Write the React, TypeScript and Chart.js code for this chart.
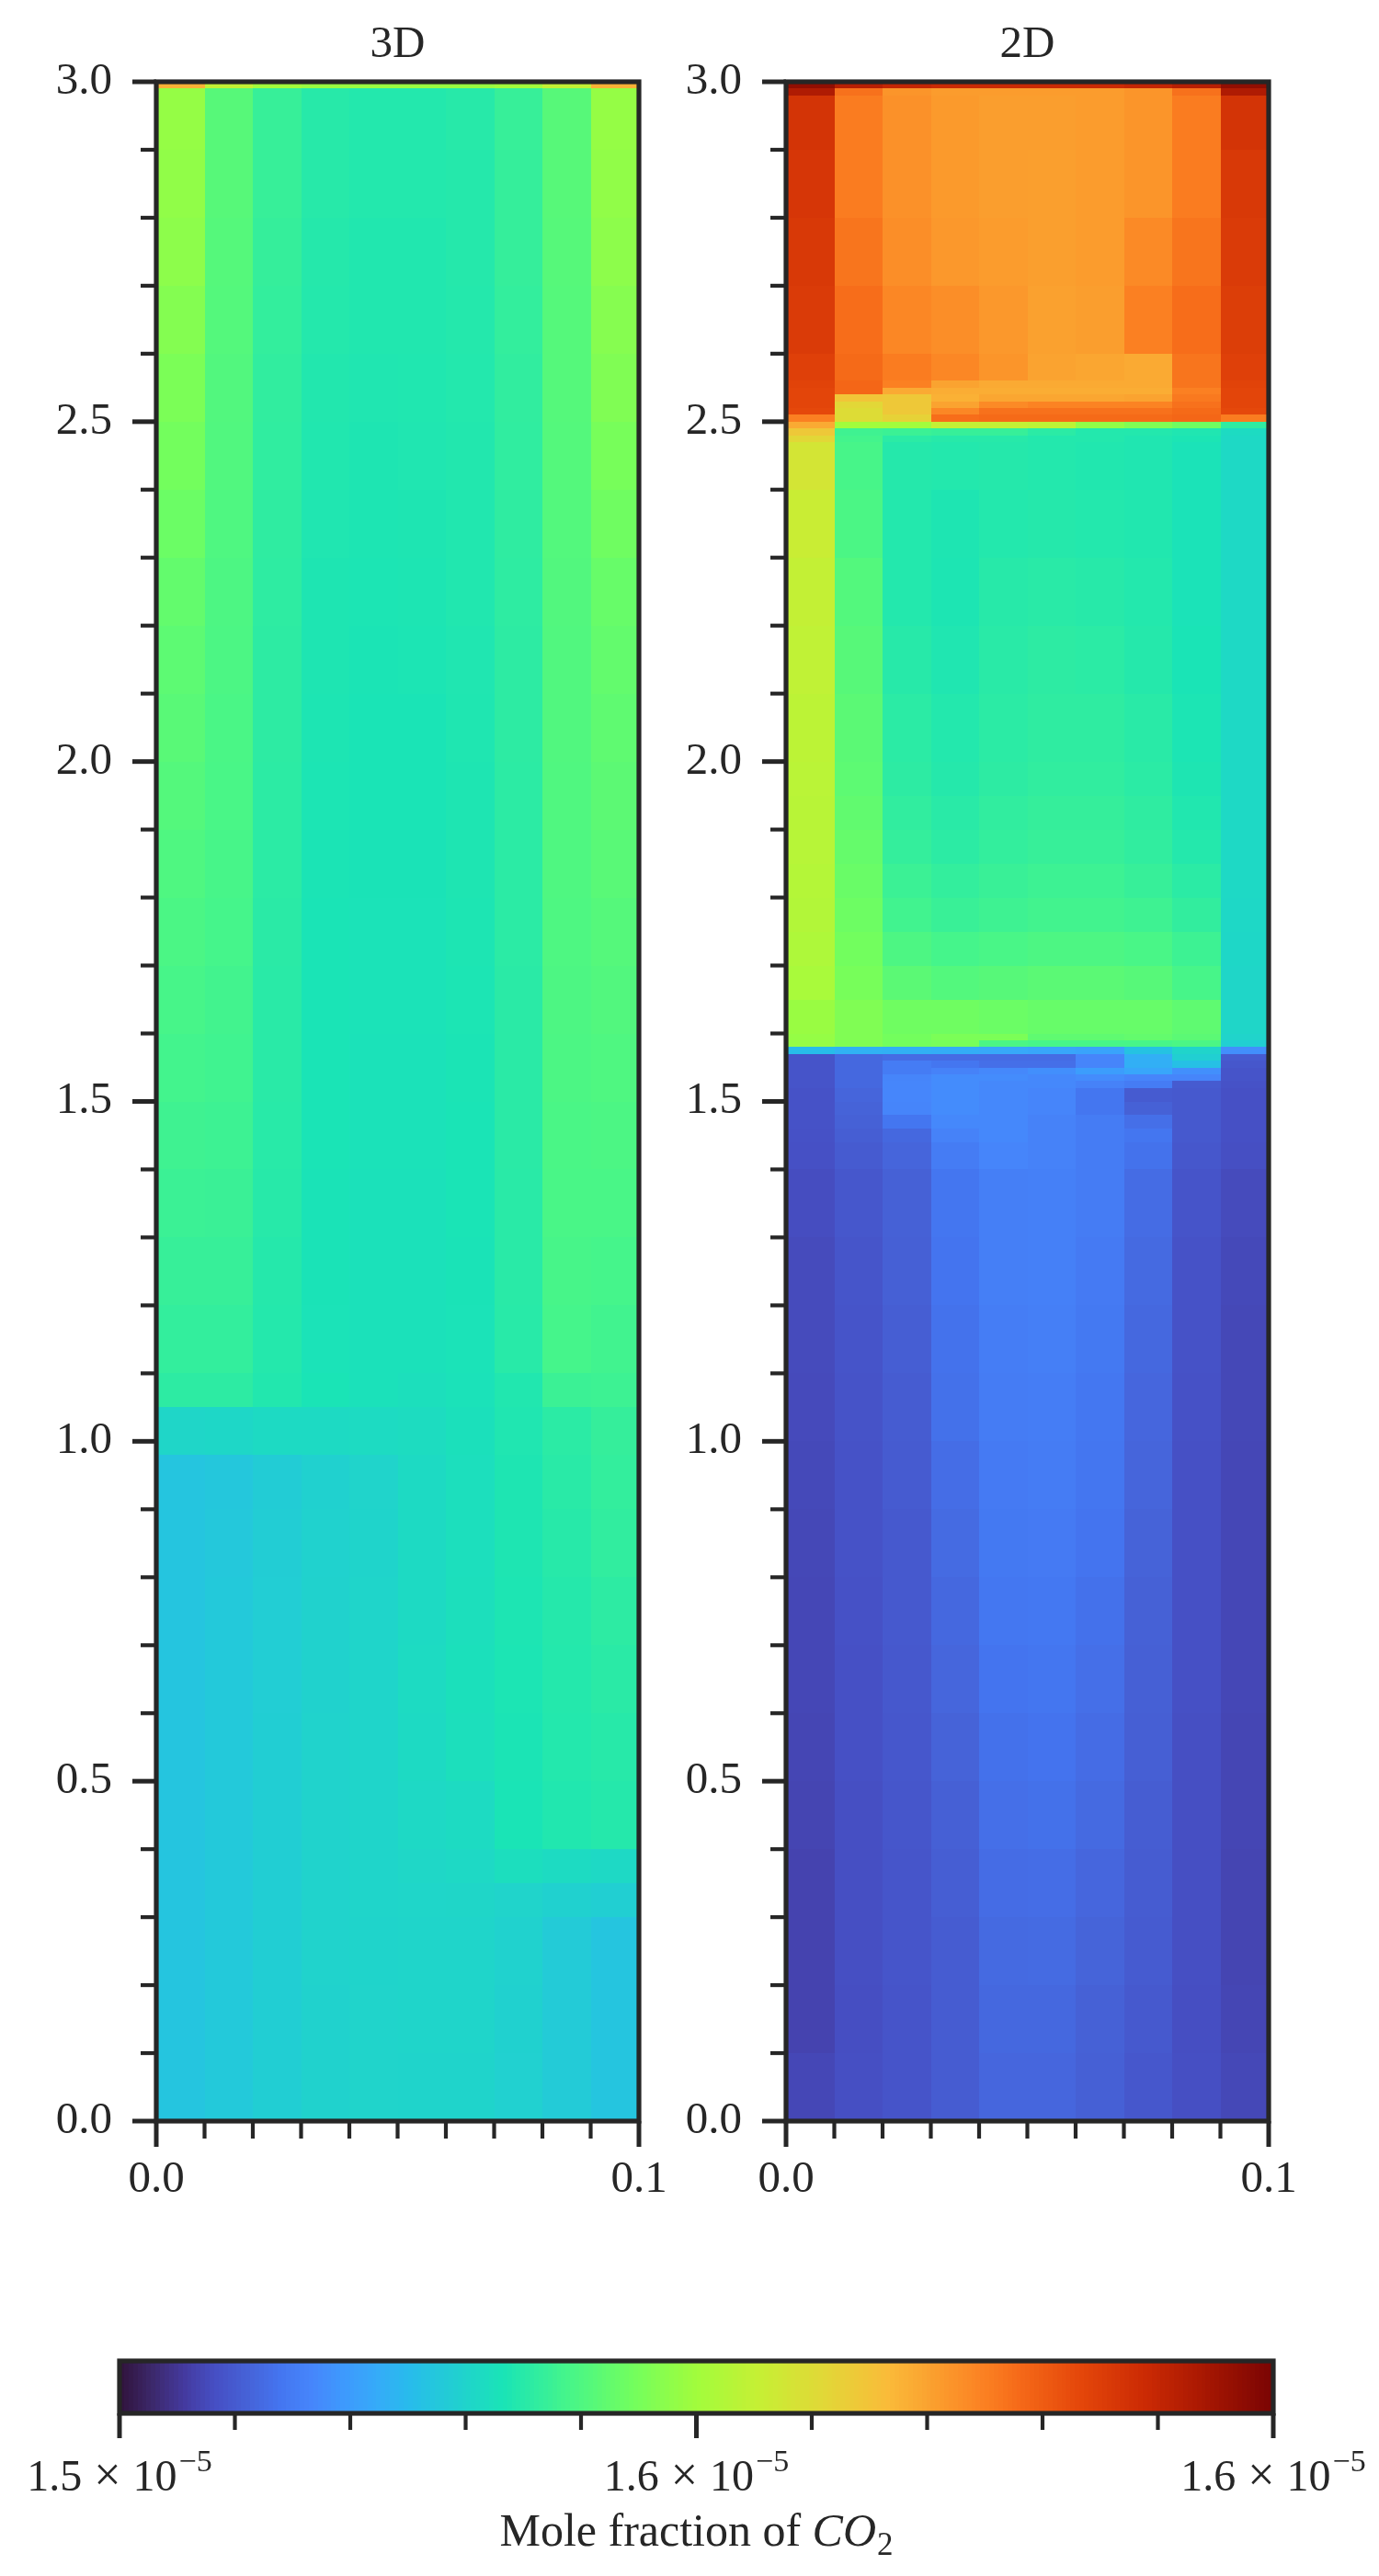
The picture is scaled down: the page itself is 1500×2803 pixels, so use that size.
import React, { useEffect, useRef } from "react";
import { Chart, registerables } from "chart.js";

Chart.register(...registerables);

const FONT = "'Liberation Serif', 'DejaVu Serif', serif";
const INK = "#262626";

// ---------------- data ----------------
// cell edges along x (m)
const xEdges = [0, 0.01, 0.02, 0.03, 0.04, 0.05, 0.06, 0.07, 0.08, 0.09, 0.1];

// CO2 mole fraction, in units of 1e-9, rows listed from top (y = 3.0) to bottom (y = 0)
const yEdges3D = [3.0, 2.99, 2.9, 2.8, 2.7, 2.6, 2.5, 2.4, 2.3, 2.2, 2.1, 2.0, 1.9, 1.8, 1.7, 1.6, 1.5, 1.4, 1.3, 1.2, 1.1, 1.05, 0.98, 0.9, 0.8, 0.7, 0.6, 0.5, 0.4, 0.35, 0.3, 0.2, 0.1, 0.0];
const co2_3D = [
  [15944, 15840, 15800, 15792, 15792, 15792, 15792, 15800, 15840, 15944],
  [15788, 15728, 15696, 15680, 15676, 15676, 15680, 15696, 15728, 15788],
  [15784, 15728, 15696, 15680, 15676, 15676, 15678, 15694, 15728, 15784],
  [15780, 15726, 15694, 15678, 15674, 15674, 15678, 15694, 15727, 15780],
  [15772, 15725, 15692, 15677, 15674, 15674, 15677, 15692, 15726, 15774],
  [15764, 15723, 15690, 15675, 15672, 15673, 15676, 15690, 15726, 15768],
  [15756, 15722, 15689, 15674, 15670, 15672, 15675, 15689, 15725, 15760],
  [15748, 15720, 15688, 15672, 15669, 15670, 15674, 15688, 15724, 15752],
  [15740, 15718, 15687, 15670, 15668, 15669, 15674, 15687, 15723, 15744],
  [15734, 15717, 15686, 15670, 15667, 15668, 15672, 15686, 15722, 15740],
  [15730, 15715, 15686, 15669, 15666, 15666, 15671, 15686, 15722, 15736],
  [15725, 15714, 15685, 15668, 15666, 15666, 15670, 15685, 15721, 15733],
  [15720, 15712, 15684, 15667, 15665, 15665, 15670, 15684, 15720, 15730],
  [15716, 15710, 15683, 15666, 15664, 15664, 15669, 15684, 15719, 15726],
  [15712, 15707, 15682, 15666, 15664, 15664, 15668, 15683, 15718, 15723],
  [15708, 15705, 15682, 15666, 15663, 15663, 15667, 15683, 15717, 15720],
  [15704, 15702, 15681, 15666, 15663, 15663, 15666, 15683, 15715, 15717],
  [15700, 15699, 15680, 15665, 15662, 15662, 15666, 15682, 15714, 15714],
  [15696, 15696, 15678, 15665, 15662, 15662, 15665, 15682, 15712, 15710],
  [15692, 15692, 15677, 15664, 15661, 15661, 15664, 15681, 15710, 15706],
  [15686, 15686, 15675, 15666, 15662, 15659, 15663, 15674, 15700, 15702],
  [15644, 15646, 15650, 15651, 15652, 15654, 15660, 15672, 15684, 15694],
  [15616, 15620, 15628, 15636, 15640, 15650, 15658, 15670, 15682, 15692],
  [15616, 15621, 15629, 15637, 15641, 15650, 15658, 15670, 15680, 15690],
  [15616, 15622, 15630, 15638, 15642, 15651, 15659, 15669, 15678, 15686],
  [15616, 15622, 15630, 15638, 15642, 15652, 15660, 15668, 15677, 15683],
  [15616, 15622, 15631, 15639, 15642, 15651, 15659, 15667, 15676, 15680],
  [15616, 15622, 15631, 15639, 15642, 15648, 15652, 15666, 15674, 15678],
  [15616, 15622, 15631, 15639, 15642, 15645, 15648, 15656, 15652, 15648],
  [15616, 15622, 15631, 15639, 15642, 15643, 15644, 15640, 15636, 15632],
  [15616, 15622, 15631, 15639, 15641, 15642, 15642, 15637, 15626, 15616],
  [15616, 15622, 15631, 15638, 15640, 15642, 15642, 15636, 15626, 15616],
  [15616, 15622, 15631, 15638, 15640, 15641, 15641, 15635, 15626, 15616],
];

const yEdges2D = [3.0, 2.99, 2.98, 2.9, 2.8, 2.7, 2.6, 2.56, 2.55, 2.54, 2.53, 2.52, 2.51, 2.5, 2.49, 2.48, 2.47, 2.4, 2.3, 2.2, 2.1, 2.0, 1.95, 1.9, 1.85, 1.8, 1.75, 1.7, 1.65, 1.6, 1.59, 1.58, 1.57, 1.56, 1.55, 1.54, 1.53, 1.52, 1.5, 1.48, 1.46, 1.44, 1.4, 1.3, 1.2, 1.1, 1.0, 0.9, 0.8, 0.7, 0.6, 0.5, 0.4, 0.3, 0.2, 0.1, 0.0];
const co2_2D = [
  [16176, 16136, 16120, 16112, 16112, 16112, 16112, 16120, 16136, 16176],
  [16144, 16016, 15976, 15968, 15968, 15968, 15968, 15976, 16016, 16144],
  [16096, 16004, 15980, 15970, 15966, 15966, 15968, 15976, 16004, 16096],
  [16092, 16004, 15980, 15970, 15966, 15965, 15968, 15976, 16004, 16088],
  [16088, 16012, 15984, 15972, 15968, 15964, 15968, 15988, 16012, 16084],
  [16084, 16020, 15992, 15984, 15972, 15962, 15966, 16000, 16020, 16080],
  [16076, 16024, 16004, 15992, 15976, 15960, 15956, 15952, 16012, 16076],
  [16072, 16028, 16000, 15960, 15952, 15952, 15952, 15952, 16012, 16072],
  [16068, 16028, 15952, 15948, 15948, 15948, 15948, 15948, 16000, 16068],
  [16068, 15916, 15912, 15944, 15956, 15956, 15956, 15960, 16008, 16068],
  [16068, 15888, 15912, 15960, 15988, 15996, 15996, 15996, 16016, 16068],
  [16064, 15880, 15912, 15992, 16016, 16016, 16016, 16016, 16024, 16064],
  [16000, 15880, 15896, 16020, 16024, 16024, 16024, 16024, 16028, 16004],
  [15952, 15800, 15800, 15840, 15840, 15832, 15784, 15768, 15752, 15688],
  [15912, 15704, 15700, 15696, 15696, 15684, 15676, 15676, 15672, 15652],
  [15888, 15708, 15684, 15680, 15680, 15676, 15676, 15672, 15668, 15648],
  [15864, 15712, 15678, 15676, 15678, 15676, 15674, 15672, 15664, 15648],
  [15848, 15716, 15676, 15670, 15676, 15678, 15676, 15674, 15664, 15648],
  [15840, 15724, 15676, 15669, 15680, 15682, 15680, 15676, 15664, 15648],
  [15836, 15728, 15680, 15672, 15682, 15686, 15684, 15678, 15666, 15648],
  [15832, 15732, 15684, 15676, 15684, 15688, 15688, 15682, 15668, 15648],
  [15829, 15734, 15686, 15678, 15686, 15690, 15690, 15684, 15670, 15648],
  [15827, 15738, 15690, 15682, 15690, 15694, 15694, 15688, 15674, 15648],
  [15825, 15742, 15693, 15685, 15692, 15696, 15696, 15690, 15677, 15648],
  [15822, 15746, 15700, 15692, 15698, 15702, 15702, 15696, 15684, 15648],
  [15819, 15750, 15706, 15698, 15703, 15707, 15707, 15703, 15691, 15647],
  [15814, 15755, 15718, 15710, 15714, 15718, 15718, 15714, 15702, 15646],
  [15808, 15760, 15732, 15724, 15728, 15732, 15732, 15728, 15712, 15644],
  [15792, 15768, 15752, 15752, 15748, 15744, 15744, 15744, 15736, 15644],
  [15788, 15768, 15756, 15764, 15764, 15736, 15736, 15740, 15732, 15640],
  [15788, 15768, 15756, 15760, 15716, 15712, 15712, 15712, 15716, 15632],
  [15604, 15588, 15586, 15582, 15576, 15572, 15568, 15612, 15640, 15544],
  [15472, 15496, 15500, 15500, 15500, 15500, 15532, 15584, 15632, 15480],
  [15472, 15496, 15520, 15512, 15504, 15504, 15532, 15584, 15608, 15476],
  [15472, 15496, 15520, 15528, 15536, 15544, 15560, 15572, 15544, 15472],
  [15472, 15496, 15532, 15540, 15540, 15536, 15540, 15532, 15532, 15472],
  [15472, 15496, 15534, 15540, 15536, 15536, 15528, 15520, 15480, 15470],
  [15470, 15492, 15534, 15540, 15536, 15532, 15512, 15480, 15478, 15468],
  [15470, 15490, 15532, 15540, 15536, 15532, 15512, 15488, 15478, 15468],
  [15470, 15488, 15512, 15536, 15536, 15528, 15520, 15504, 15478, 15468],
  [15469, 15484, 15496, 15528, 15536, 15528, 15520, 15512, 15478, 15468],
  [15468, 15480, 15492, 15520, 15532, 15528, 15520, 15508, 15476, 15466],
  [15464, 15476, 15488, 15512, 15524, 15526, 15520, 15500, 15472, 15462],
  [15462, 15474, 15486, 15510, 15524, 15526, 15518, 15498, 15470, 15460],
  [15462, 15472, 15484, 15508, 15522, 15524, 15516, 15496, 15470, 15459],
  [15461, 15471, 15482, 15506, 15520, 15522, 15514, 15494, 15469, 15459],
  [15460, 15470, 15480, 15502, 15518, 15520, 15512, 15492, 15468, 15458],
  [15459, 15470, 15478, 15499, 15516, 15518, 15510, 15490, 15468, 15458],
  [15458, 15469, 15478, 15496, 15514, 15515, 15507, 15488, 15467, 15458],
  [15458, 15468, 15477, 15493, 15510, 15512, 15504, 15486, 15467, 15458],
  [15457, 15467, 15476, 15490, 15507, 15509, 15501, 15485, 15466, 15457],
  [15456, 15466, 15475, 15486, 15504, 15506, 15498, 15483, 15466, 15457],
  [15454, 15466, 15474, 15484, 15501, 15502, 15494, 15482, 15466, 15456],
  [15454, 15466, 15474, 15482, 15498, 15499, 15491, 15480, 15466, 15456],
  [15454, 15465, 15472, 15482, 15496, 15496, 15488, 15478, 15465, 15457],
  [15458, 15466, 15472, 15482, 15494, 15494, 15486, 15476, 15466, 15459],
];

const panelTitles = ["3D", "2D"];
const xTickLabels = [0, 0.1];
const yTickLabels = [0, 0.5, 1.0, 1.5, 2.0, 2.5, 3.0];
const cbarRange = [15400, 16200]; // 1e-9 units
const cbarMajorTicks = [15400, 15800, 16200];
const cbarTitle = ["Mole fraction of ", "CO", "2"];

// turbo colormap stops
const turboStops: [number, string][] = [
  [0.0, "#30123b"], [0.028, "#3c286a"], [0.056, "#443a9f"], [0.083, "#464fc4"],
  [0.111, "#4662d7"], [0.139, "#4475f0"], [0.167, "#4686fb"], [0.194, "#3e99fd"],
  [0.222, "#36aaf9"], [0.25, "#28bbec"], [0.333, "#1ae4b6"], [0.389, "#46f58a"],
  [0.444, "#72fe5e"], [0.5, "#a2fc3c"], [0.556, "#c7ef34"], [0.611, "#e2d737"],
  [0.667, "#faba39"], [0.75, "#fb8022"], [0.778, "#f66b19"], [0.833, "#e4460a"],
  [0.889, "#cb2a04"], [0.944, "#a51602"], [1.0, "#7a0403"],
];

// ---------------- helpers ----------------
const stopRGB = turboStops.map(([t, h]) => [
  t,
  parseInt(h.slice(1, 3), 16),
  parseInt(h.slice(3, 5), 16),
  parseInt(h.slice(5, 7), 16),
]);

function turbo(t: number): string {
  const u = Math.max(0, Math.min(1, t));
  for (let i = 1; i < stopRGB.length; i++) {
    if (u <= stopRGB[i][0]) {
      const a = stopRGB[i - 1];
      const b = stopRGB[i];
      const f = (u - a[0]) / (b[0] - a[0]);
      const r = Math.round(a[1] + (b[1] - a[1]) * f);
      const g = Math.round(a[2] + (b[2] - a[2]) * f);
      const bl = Math.round(a[3] + (b[3] - a[3]) * f);
      return `rgb(${r},${g},${bl})`;
    }
  }
  return "#7a0403";
}

function colorOf(v: number) {
  return turbo((v - cbarRange[0]) / (cbarRange[1] - cbarRange[0]));
}

function buildCells(yEdges: number[], rows: number[][]) {
  const cells: any[] = [];
  rows.forEach((row, r) => {
    row.forEach((v, c) => {
      cells.push({
        x: (xEdges[c] + xEdges[c + 1]) / 2,
        y: (yEdges[r] + yEdges[r + 1]) / 2,
        x0: xEdges[c],
        x1: xEdges[c + 1],
        y0: yEdges[r + 1],
        y1: yEdges[r],
        v,
      });
    });
  });
  return cells;
}

const heatmapPlugin = {
  id: "heatmapCells",
  beforeDatasetsDraw(chart: any) {
    const { ctx, chartArea: a, scales } = chart;
    const xs = scales.x;
    const ys = scales.y;
    ctx.save();
    ctx.beginPath();
    ctx.rect(a.left, a.top, a.right - a.left, a.bottom - a.top);
    ctx.clip();
    chart.data.datasets.forEach((ds: any) => {
      ds.data.forEach((c: any) => {
        const l = Math.round(xs.getPixelForValue(c.x0));
        const r = Math.round(xs.getPixelForValue(c.x1));
        const t = Math.round(ys.getPixelForValue(c.y1));
        const b = Math.round(ys.getPixelForValue(c.y0));
        ctx.fillStyle = colorOf(c.v);
        ctx.fillRect(l, t, r - l, b - t);
      });
    });
    ctx.restore();
  },
};

const PANEL_H = 2420;
const PANEL_TOP = 89;
const PANEL_BOTTOM = 2308;
const PAD_BOTTOM = 20;
const TICK_FONT = 49;

function HeatPanel(props: {
  title: string;
  yEdges: number[];
  values: number[][];
  left: number;
  width: number;
  axisWidth: number;
  padRight: number;
}) {
  const ref = useRef<HTMLCanvasElement>(null);
  useEffect(() => {
    const { title, yEdges, values, axisWidth, padRight } = props;
    const decor = {
      id: "panelDecor",
      afterDraw(chart: any) {
        const { ctx, chartArea: a, scales } = chart;
        const xs = scales.x;
        const ys = scales.y;
        ctx.save();
        ctx.strokeStyle = INK;
        ctx.lineCap = "butt";
        for (let k = 0; k <= 30; k++) {
          const major = k % 5 === 0;
          const py = ys.getPixelForValue(k / 10);
          ctx.lineWidth = major ? 5 : 4.2;
          ctx.beginPath();
          ctx.moveTo(a.left, py);
          ctx.lineTo(a.left - (major ? 26 : 17), py);
          ctx.stroke();
        }
        for (let k = 0; k <= 10; k++) {
          const major = k === 0 || k === 10;
          const px = xs.getPixelForValue(k / 100);
          ctx.lineWidth = major ? 5 : 4.2;
          ctx.beginPath();
          ctx.moveTo(px, a.bottom);
          ctx.lineTo(px, a.bottom + (major ? 28 : 19));
          ctx.stroke();
        }
        ctx.lineWidth = 5.2;
        ctx.strokeRect(a.left, a.top, a.right - a.left, a.bottom - a.top);
        ctx.fillStyle = INK;
        ctx.font = `49px ${FONT}`;
        ctx.textAlign = "center";
        ctx.textBaseline = "alphabetic";
        ctx.fillText(title, (a.left + a.right) / 2, 62);
        ctx.restore();
      },
    };
    const chart = new Chart(ref.current as HTMLCanvasElement, {
      type: "scatter",
      data: {
        datasets: [
          {
            label: title,
            data: buildCells(yEdges, values),
            pointRadius: 0,
            pointHoverRadius: 0,
          } as any,
        ],
      },
      options: {
        responsive: false,
        animation: false,
        events: [],
        layout: {
          autoPadding: false,
          padding: { top: PANEL_TOP, bottom: PAD_BOTTOM, left: 0, right: padRight },
        },
        plugins: {
          legend: { display: false },
          tooltip: { enabled: false },
          title: { display: false },
        },
        scales: {
          x: {
            type: "linear",
            min: 0,
            max: 0.1,
            grid: { display: false, drawTicks: false },
            border: { display: false },
            ticks: {
              stepSize: 0.1,
              autoSkip: false,
              maxRotation: 0,
              padding: 10,
              color: INK,
              font: { family: FONT, size: TICK_FONT, lineHeight: 2.2 },
              callback: (v: any) => (xTickLabels.includes(Number(Number(v).toFixed(2))) ? Number(v).toFixed(1) : ""),
            },
            afterFit: (s: any) => {
              s.height = PANEL_H - PAD_BOTTOM - PANEL_BOTTOM;
            },
          },
          y: {
            type: "linear",
            min: 0,
            max: 3,
            grid: { display: false, drawTicks: false },
            border: { display: false },
            ticks: {
              stepSize: 0.5,
              autoSkip: false,
              padding: 48,
              color: INK,
              font: { family: FONT, size: TICK_FONT },
              callback: (v: any) => (yTickLabels.includes(Number(v)) ? Number(v).toFixed(1) : ""),
            },
            afterFit: (s: any) => {
              s.width = axisWidth;
            },
          },
        },
      } as any,
      plugins: [heatmapPlugin, decor],
    });
    return () => chart.destroy();
  }, []);
  return (
    <canvas
      ref={ref}
      width={props.width}
      height={PANEL_H}
      style={{ position: "absolute", left: props.left, top: 0, width: props.width, height: PANEL_H, display: "block" }}
    />
  );
}

const CB_TOP = 2420;
const CB_H = 383;

function Colorbar() {
  const ref = useRef<HTMLCanvasElement>(null);
  useEffect(() => {
    const [vmin, vmax] = cbarRange;
    const N = 256;
    const samples: any[] = [];
    for (let i = 0; i < N; i++) {
      const x0 = vmin + ((vmax - vmin) * i) / N;
      const x1 = vmin + ((vmax - vmin) * (i + 1)) / N;
      samples.push({ x: (x0 + x1) / 2, y: 0.5, x0, x1, y0: 0, y1: 1, v: (x0 + x1) / 2 });
    }
    const decor = {
      id: "cbarDecor",
      afterDraw(chart: any) {
        const { ctx, chartArea: a, scales } = chart;
        const xs = scales.x;
        ctx.save();
        ctx.strokeStyle = INK;
        ctx.lineCap = "butt";
        for (let k = 0; k <= 10; k++) {
          const v = vmin + ((vmax - vmin) * k) / 10;
          const major = cbarMajorTicks.some((m) => Math.abs(m - v) < 1e-6);
          const px = xs.getPixelForValue(v);
          ctx.lineWidth = major ? 5 : 4.2;
          ctx.beginPath();
          ctx.moveTo(px, a.bottom);
          ctx.lineTo(px, a.bottom + (major ? 27 : 18));
          ctx.stroke();
        }
        ctx.lineWidth = 5.2;
        ctx.strokeRect(a.left, a.top, a.right - a.left, a.bottom - a.top);

        // tick labels: m × 10^-5
        ctx.fillStyle = INK;
        ctx.textAlign = "left";
        ctx.textBaseline = "alphabetic";
        const mainFont = `48px ${FONT}`;
        const timesFont = `52px ${FONT}`;
        const supFont = `34px ${FONT}`;
        cbarMajorTicks.forEach((v) => {
          const mant = (v / 10000).toFixed(1);
          const exp = "\u22125";
          ctx.font = mainFont;
          const w1 = ctx.measureText(mant).width;
          const w3 = ctx.measureText("10").width;
          ctx.font = timesFont;
          const w2 = ctx.measureText("\u00d7").width;
          ctx.font = supFont;
          const w4 = ctx.measureText(exp).width;
          const gap = 13;
          const total = w1 + gap + w2 + gap + w3 + 2 + w4;
          let x = xs.getPixelForValue(v) - total / 2;
          const base = 290;
          ctx.font = mainFont;
          ctx.fillText(mant, x, base);
          x += w1 + gap;
          ctx.font = timesFont;
          ctx.fillText("\u00d7", x, base);
          x += w2 + gap;
          ctx.font = mainFont;
          ctx.fillText("10", x, base);
          x += w3 + 2;
          ctx.font = supFont;
          ctx.fillText(exp, x, base - 21);
        });

        // axis title
        const tFont = `50px ${FONT}`;
        const tItal = `italic 50px ${FONT}`;
        const tSub = `35px ${FONT}`;
        ctx.font = tFont;
        const a1 = ctx.measureText(cbarTitle[0]).width;
        ctx.font = tItal;
        const a2 = ctx.measureText(cbarTitle[1]).width;
        ctx.font = tSub;
        const a3 = ctx.measureText(cbarTitle[2]).width;
        const tw = a1 + a2 + 1 + a3;
        let tx = (a.left + a.right) / 2 - tw / 2;
        const tb = 350;
        ctx.font = tFont;
        ctx.fillText(cbarTitle[0], tx, tb);
        tx += a1;
        ctx.font = tItal;
        ctx.fillText(cbarTitle[1], tx, tb);
        tx += a2 + 1;
        ctx.font = tSub;
        ctx.fillText(cbarTitle[2], tx, tb + 10);
        ctx.restore();
      },
    };
    const chart = new Chart(ref.current as HTMLCanvasElement, {
      type: "scatter",
      data: {
        datasets: [{ label: "colour scale", data: samples, pointRadius: 0, pointHoverRadius: 0 } as any],
      },
      options: {
        responsive: false,
        animation: false,
        events: [],
        layout: { autoPadding: false, padding: { top: 149, bottom: 177, left: 130, right: 115 } },
        plugins: { legend: { display: false }, tooltip: { enabled: false } },
        scales: {
          x: { type: "linear", display: false, min: vmin, max: vmax },
          y: { type: "linear", display: false, min: 0, max: 1 },
        },
      } as any,
      plugins: [heatmapPlugin, decor],
    });
    return () => chart.destroy();
  }, []);
  return (
    <canvas
      ref={ref}
      width={1500}
      height={CB_H}
      style={{ position: "absolute", left: 0, top: CB_TOP, width: 1500, height: CB_H, display: "block" }}
    />
  );
}

export default function App() {
  return (
    <div style={{ position: "absolute", left: 0, top: 0, width: 1500, height: 2803, background: "#ffffff", overflow: "hidden" }}>
      <HeatPanel title={panelTitles[0]} yEdges={yEdges3D} values={co2_3D} left={0} width={736} axisWidth={170} padRight={41} />
      <HeatPanel title={panelTitles[1]} yEdges={yEdges2D} values={co2_2D} left={736} width={764} axisWidth={119} padRight={120} />
      <Colorbar />
    </div>
  );
}
